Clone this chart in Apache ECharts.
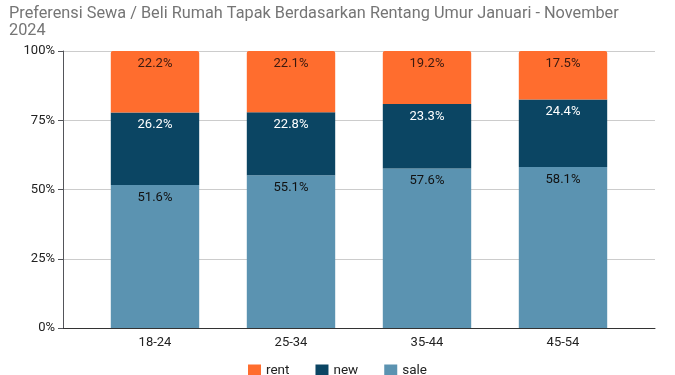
<!DOCTYPE html>
<html><head><meta charset="utf-8">
<script src="https://cdn.jsdelivr.net/npm/echarts@6/dist/echarts.min.js"></script>
<style>html,body{margin:0;padding:0;background:#fff}#c{width:675px;height:375px}</style>
</head><body><div id="c"></div>
<script>
const categories = ['18-24', '25-34', '35-44', '45-54'];
const sale = [51.6, 55.1, 57.6, 58.1];
const newHome = [26.2, 22.8, 23.3, 24.4];
const rent = [22.2, 22.1, 19.2, 17.5];
const yTicks = [0, 25, 50, 75, 100];

const chart = echarts.init(document.getElementById('c'));
const lbl = (color) => ({show: true, position: 'insideTop', distance: 6, color: color, fontSize: 13, fontFamily: 'Roboto', formatter: p => p.value.toFixed(1) + '%'});
chart.setOption({
  animation: false,
  textStyle: {fontFamily: 'Roboto'},
  title: {
    text: 'Preferensi Sewa / Beli Rumah Tapak Berdasarkan Rentang Umur Januari - November 2024',
    left: 4, top: 0,
    textStyle: {fontSize: 16.3, fontWeight: 'normal', color: '#757575', fontFamily: 'Roboto', width: 630, overflow: 'break', lineHeight: 17}
  },
  legend: {
    top: 359, left: 'center', itemWidth: 13, itemHeight: 13, itemGap: 26,
    icon: 'rect',
    textStyle: {color: '#222', fontSize: 13.5, fontFamily: 'Roboto'},
    data: ['rent', 'new', 'sale']
  },
  grid: [
    {left: 63, right: 20, top: 51, bottom: 47},
    {left: 87, right: 44, top: 51, bottom: 47}
  ],
  xAxis: [
    {type: 'value', gridIndex: 0, min: 0, max: 1, axisLabel: {show: false}, axisTick: {show: false}, splitLine: {show: false},
     axisLine: {show: true, onZero: false, lineStyle: {color: '#333'}}},
    {type: 'category', gridIndex: 1, data: categories,
     axisTick: {show: false}, axisLine: {show: false},
     axisLabel: {color: '#222', fontSize: 13, margin: 8}}
  ],
  yAxis: [
    {type: 'value', gridIndex: 0, min: 0, max: 100, interval: 25,
     axisLabel: {color: '#222', fontSize: 13, formatter: v => yTicks.includes(v) ? v + '%' : ''},
     splitLine: {lineStyle: {color: '#ccc'}}},
    {type: 'value', gridIndex: 1, min: 0, max: 100, interval: 25, show: false, splitLine: {show: false}}
  ],
  series: [
    {name: 'sale', type: 'bar', stack: 's', xAxisIndex: 1, yAxisIndex: 1, data: sale, barWidth: '65%', itemStyle: {color: '#5B93B1'}, label: lbl('#111')},
    {name: 'new', type: 'bar', stack: 's', xAxisIndex: 1, yAxisIndex: 1, data: newHome, itemStyle: {color: '#0B4563'}, label: lbl('#fff')},
    {name: 'rent', type: 'bar', stack: 's', xAxisIndex: 1, yAxisIndex: 1, data: rent, itemStyle: {color: '#FF6D2E', borderRadius: [2,2,0,0]}, label: lbl('#3a1a10')}
  ]
});
</script></body></html>
